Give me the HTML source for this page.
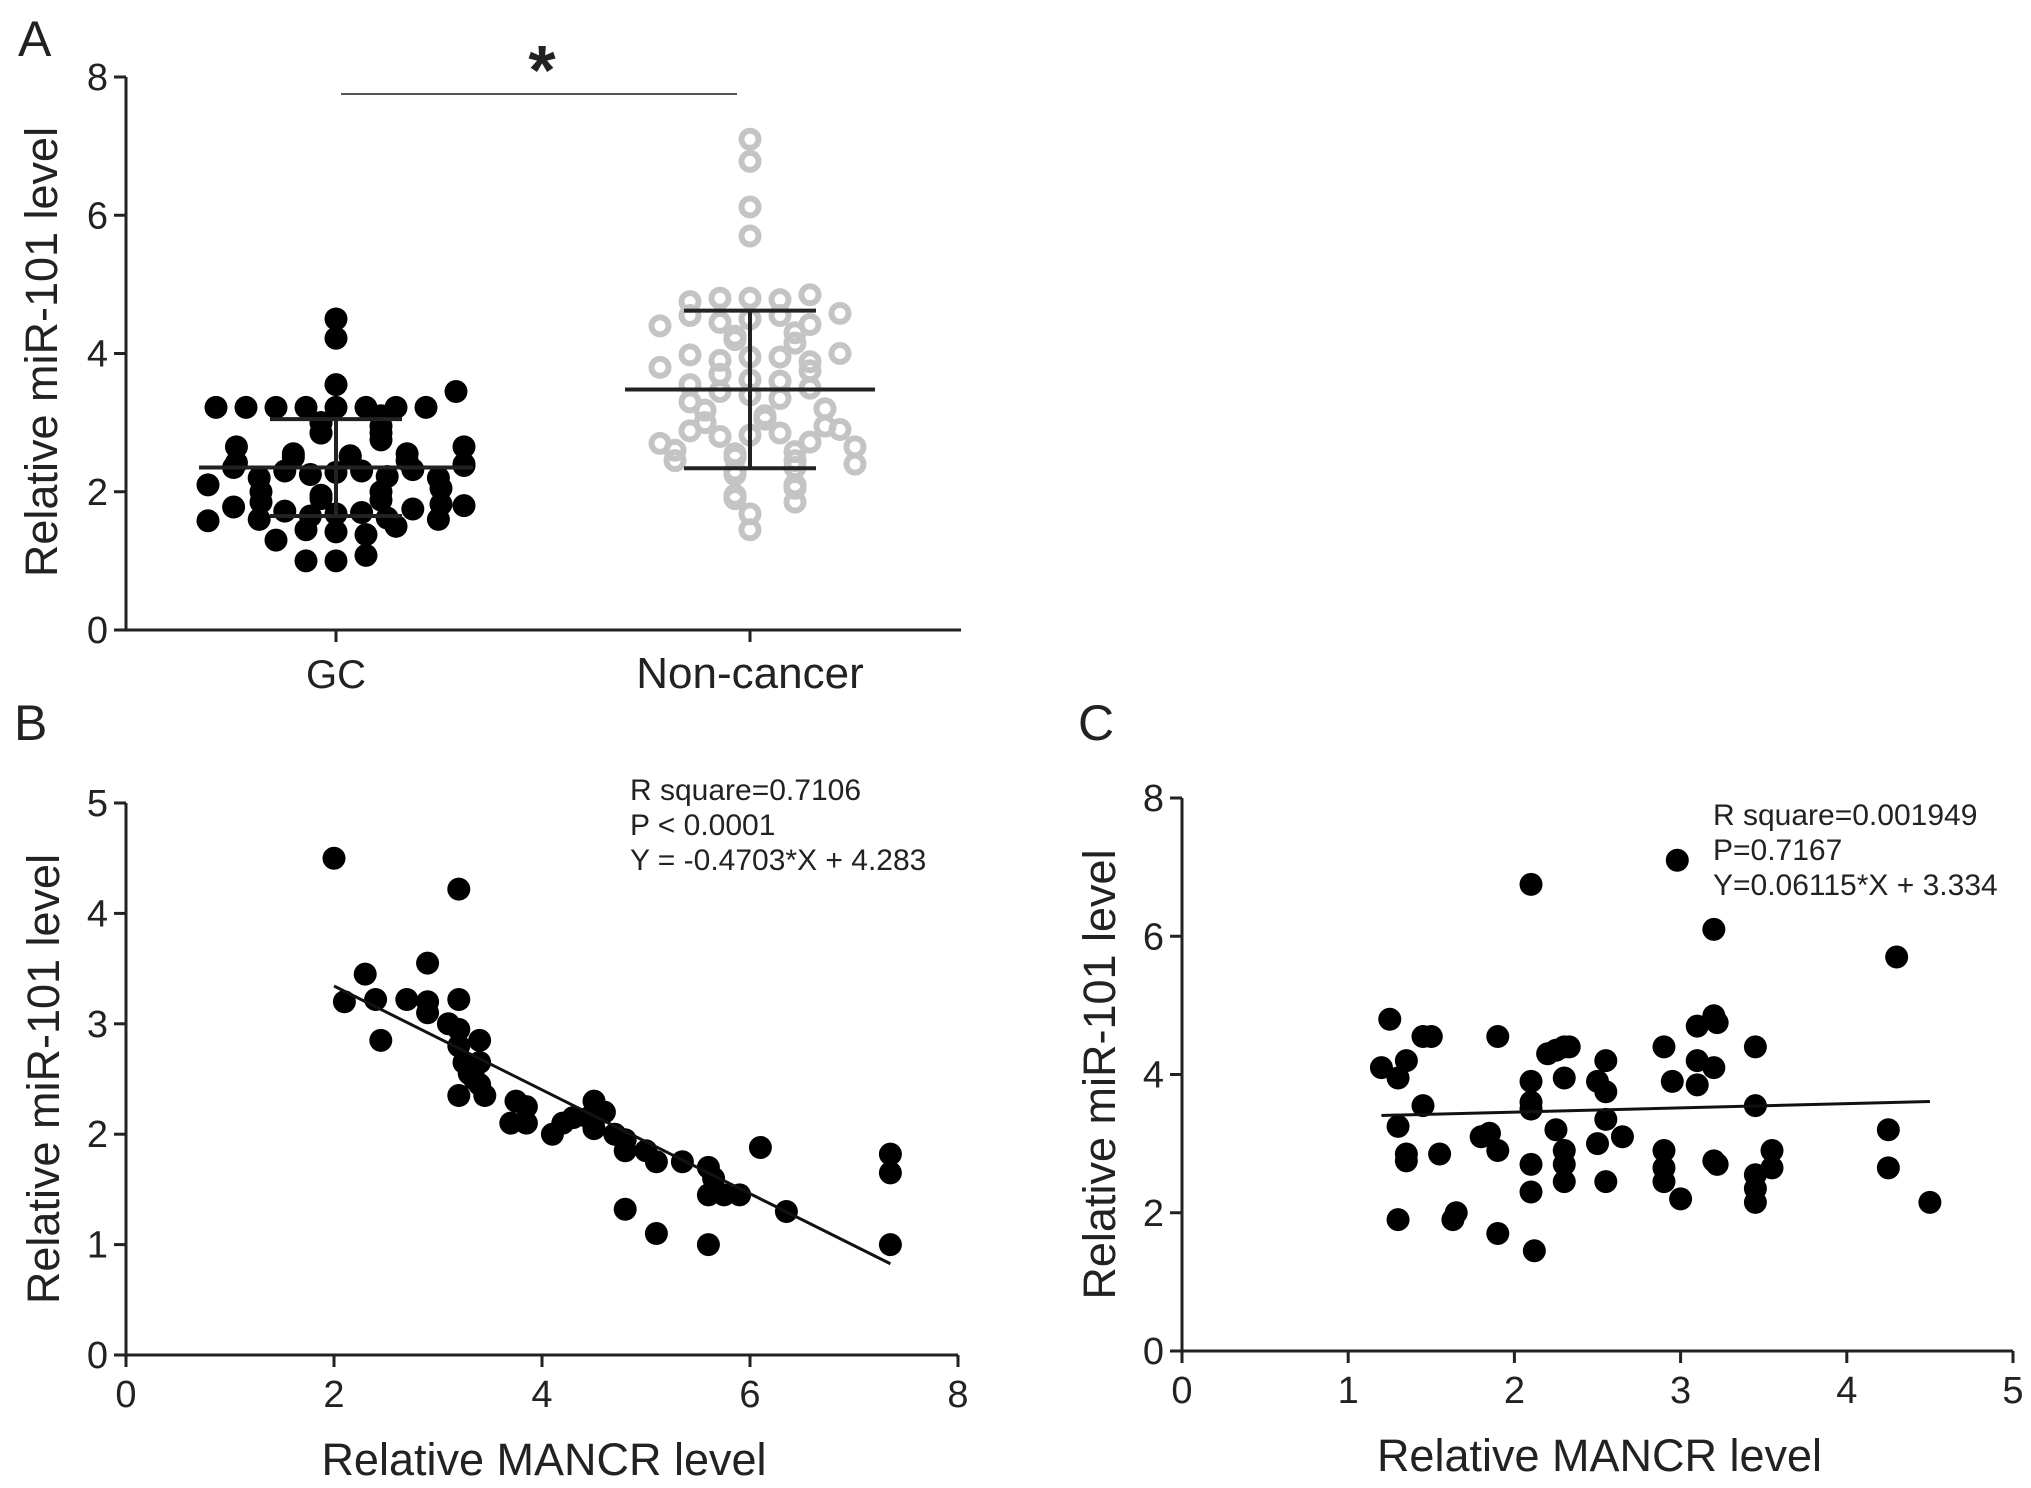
<!DOCTYPE html>
<html><head><meta charset="utf-8"><style>
html,body{margin:0;padding:0;background:#fff}
svg{display:block}
text{font-family:"Liberation Sans",sans-serif;fill:#222}
</style></head><body>
<svg id="fig" width="2031" height="1488" viewBox="0 0 2031 1488">
<g id="pa"></g>
<g id="pb"></g>
<g id="pc"></g>
</svg>
<script>
const gcValues=[4.5,4.22,3.55,3.45,3.22,3.22,3.22,3.22,3.22,3.22,3.22,3.22,3.1,3.0,3.0,2.95,2.85,2.85,2.85,2.75,2.65,2.65,2.55,2.55,2.52,2.5,2.5,2.45,2.42,2.4,2.38,2.35,2.32,2.3,2.3,2.28,2.25,2.22,2.2,2.2,2.1,2.05,2.0,2.0,1.95,1.9,1.88,1.85,1.82,1.8,1.78,1.75,1.72,1.7,1.68,1.65,1.62,1.6,1.6,1.58,1.5,1.45,1.42,1.38,1.3,1.08,1.0,1.0];
const ncValues=[7.1,6.78,6.12,5.7,4.85,4.8,4.8,4.78,4.75,4.58,4.55,4.55,4.5,4.45,4.42,4.4,4.3,4.25,4.2,4.15,4.0,3.98,3.95,3.95,3.9,3.88,3.8,3.75,3.7,3.62,3.6,3.55,3.5,3.45,3.4,3.35,3.3,3.2,3.18,3.1,3.05,3.0,2.95,2.9,2.88,2.85,2.82,2.8,2.72,2.7,2.65,2.6,2.58,2.55,2.5,2.45,2.45,2.4,2.35,2.3,2.25,2.1,2.05,1.95,1.9,1.85,1.68,1.45];
const groupStats=[{mean:2.35,sd:0.70},{mean:3.48,sd:1.14}];
const groupNames=["GC","Non-cancer"];
const aTicks=[0,2,4,6,8];
const bX=[2.0,3.2,2.9,2.3,2.1,2.4,2.45,2.7,2.9,2.9,3.2,3.1,3.2,3.2,3.25,3.3,3.4,3.4,3.35,3.4,3.2,3.45,3.75,3.85,3.7,3.85,4.1,4.2,4.3,4.45,4.5,4.55,4.6,4.5,4.7,4.8,4.8,5.0,5.1,5.35,5.6,5.65,5.6,5.75,5.9,6.35,6.1,4.8,5.1,5.6,7.35,7.35,7.35];
const bY=[4.5,4.22,3.55,3.45,3.2,3.22,2.85,3.22,3.2,3.1,3.22,3.0,2.95,2.8,2.65,2.55,2.85,2.65,2.5,2.45,2.35,2.35,2.3,2.25,2.1,2.1,2.0,2.1,2.15,2.15,2.3,2.2,2.2,2.05,2.0,1.95,1.85,1.85,1.75,1.75,1.7,1.6,1.45,1.45,1.45,1.3,1.88,1.32,1.1,1.0,1.82,1.65,1.0];
const bXTicks=[0,2,4,6,8], bYTicks=[0,1,2,3,4,5];
const bFit={slope:-0.4703,intercept:4.283,x0:2.0,x1:7.35};
const cX=[1.25,1.2,1.3,1.35,1.45,1.5,1.45,1.3,1.35,1.35,1.3,1.55,1.65,1.63,1.8,1.85,1.9,1.9,1.9,2.1,2.1,2.1,2.1,2.1,2.1,2.12,2.2,2.25,2.3,2.33,2.3,2.25,2.3,2.3,2.3,2.5,2.55,2.55,2.55,2.5,2.55,2.65,2.9,2.95,2.9,2.9,2.9,3.0,2.98,3.1,3.1,3.1,3.2,3.22,3.2,3.2,3.22,3.2,3.45,3.45,3.45,3.45,3.45,3.55,3.55,4.25,4.25,4.3,4.5];
const cY=[4.8,4.1,3.95,4.2,4.55,4.55,3.55,3.25,2.85,2.75,1.9,2.85,2.0,1.9,3.1,3.15,2.9,4.55,1.7,6.75,3.9,3.6,3.5,2.7,2.3,1.45,4.3,4.35,4.4,4.4,3.95,3.2,2.9,2.7,2.45,3.9,3.75,4.2,3.35,3.0,2.45,3.1,4.4,3.9,2.9,2.65,2.45,2.2,7.1,4.7,4.2,3.85,4.85,4.75,4.1,2.75,2.7,6.1,4.4,3.55,2.55,2.35,2.15,2.9,2.65,3.2,2.65,5.7,2.15];
const cXTicks=[0,1,2,3,4,5], cYTicks=[0,2,4,6,8];
const cFit={slope:0.06115,intercept:3.334,x0:1.2,x1:4.5};

const NS="http://www.w3.org/2000/svg";
function mk(parent,tag,attrs,txt){const e=document.createElementNS(NS,tag);for(const k in attrs)e.setAttribute(k,attrs[k]);if(txt!==undefined)e.textContent=txt;parent.appendChild(e);return e;}
function lin(d0,d1,r0,r1){return v=>r0+(v-d0)*(r1-r0)/(d1-d0);}
const TF=38;
function axes(g,X,Y,xTicks,yTicks,x0px,x1px,y0px,y1px){
  let e=mk(g,'line',{x1:x0px,y1:y0px,x2:x0px,y2:y1px,stroke:'#222','stroke-width':3});
  
  e=mk(g,'line',{x1:x0px-12,y1:y0px,x2:x1px,y2:y0px,stroke:'#222','stroke-width':3});
  
  yTicks.forEach(t=>{const y=Y(t);
    let l=mk(g,'line',{x1:x0px-12,y1:y,x2:x0px,y2:y,stroke:'#222','stroke-width':3});
    
    let tx=mk(g,'text',{x:x0px-18,y:y+13,'text-anchor':'end','font-size':TF},String(t));
    });
  if(xTicks) xTicks.forEach(t=>{const x=X(t);
    let l=mk(g,'line',{x1:x,y1:y0px,x2:x,y2:y0px+12,stroke:'#222','stroke-width':3});
    
    let tx=mk(g,'text',{x:x,y:y0px+52,'text-anchor':'middle','font-size':TF},String(t));
    });
}

// Panel A
(function(){
  const g=document.getElementById('pa');
  const Y=lin(0,8,630,77);
  const cx=[336,750];
  axes(g,null,Y,null,aTicks,126,961,630,77);
  cx.forEach((x,i)=>{let l=mk(g,'line',{x1:x,y1:630,x2:x,y2:642,stroke:'#222','stroke-width':3});
    
    let t=mk(g,'text',{x:x,y:688,'text-anchor':'middle','font-size':i?44:40},groupNames[i]);
    });
  let t=mk(g,'text',{x:0,y:0,transform:'translate(57,352) rotate(-90)','text-anchor':'middle','font-size':45,fill:'#333'},'Relative miR-101 level');
  
  t=mk(g,'text',{x:18,y:56,'font-size':50},'A');
  
  let l=mk(g,'line',{x1:341,y1:94,x2:737,y2:94,stroke:'#555','stroke-width':2});
  
  t=mk(g,'text',{x:542,y:94,'text-anchor':'middle','font-size':70,'font-weight':'bold'},'*');
  
  const r=11.5;
  function swarm(vals,center,halfW,open){
    const sorted=vals.slice().sort((a,b)=>b-a);
    const bins={};
    sorted.forEach(v=>{const k=Math.round(v/0.28);(bins[k]=bins[k]||[]).push(v);});
    Object.keys(bins).forEach(k=>{
      const arr=bins[k], n=arr.length;
      const w=Math.min((n-1)*30,2*halfW);
      arr.forEach((v,j)=>{
        const off=n===1?0:-w/2+j*w/(n-1);
        const x=center+(j%2? off : -off);
        const y=Y(v);
        const c=mk(g,'circle',open?{cx:x,cy:y,r:r-3,fill:'none',stroke:'#c4c4c4','stroke-width':6}:{cx:x,cy:y,r:r,fill:'#000'});
        
        
      });
    });
  }
  swarm(gcValues,cx[0],128,false);
  swarm(ncValues,cx[1],130,true);
  const halfMean=[137,125], halfCap=66;
  groupStats.forEach((s,i)=>{
    const x=cx[i];
    let m=mk(g,'line',{x1:x-halfMean[i],x2:x+halfMean[i],y1:Y(s.mean),y2:Y(s.mean),stroke:'#222','stroke-width':4});
    
    let v=mk(g,'line',{x1:x,x2:x,y1:Y(s.mean+s.sd),y2:Y(s.mean-s.sd),stroke:'#222','stroke-width':4});
    
    [s.mean+s.sd,s.mean-s.sd].forEach(val=>{
      let c=mk(g,'line',{x1:x-halfCap,x2:x+halfCap,y1:Y(val),y2:Y(val),stroke:'#222','stroke-width':4});
      });
  });
})();

function scatterPanel(id,xs,ys,xT,yT,xd,yd,px,py,fit,stats,label,lx,ly,statX,statY,titleX){
  const g=document.getElementById(id);
  const X=lin(xd[0],xd[1],px[0],px[1]), Y=lin(yd[0],yd[1],py[0],py[1]);
  axes(g,X,Y,xT,yT,px[0],px[1],py[0],py[1]);
  let t=mk(g,'text',{x:lx,y:ly,'font-size':50},label);
  
  t=mk(g,'text',{x:0,y:0,transform:`translate(${titleX},${(py[0]+py[1])/2}) rotate(-90)`,'text-anchor':'middle','font-size':45,fill:'#333'},'Relative miR-101 level');
  
  t=mk(g,'text',{x:(px[0]+px[1])/2+2,y:py[0]+120,'text-anchor':'middle','font-size':45,fill:'#333'},'Relative MANCR level');
  
  xs.forEach((x,i)=>{const c=mk(g,'circle',{cx:X(x),cy:Y(ys[i]),r:11.5,fill:'#000'});
    });
  const l=mk(g,'line',{x1:X(fit.x0),y1:Y(fit.slope*fit.x0+fit.intercept),x2:X(fit.x1),y2:Y(fit.slope*fit.x1+fit.intercept),stroke:'#111','stroke-width':3});
  
  stats.forEach((s,i)=>{const st=mk(g,'text',{x:statX,y:statY+i*35,'font-size':30,fill:'#333'},s);
    });
}
scatterPanel('pb',bX,bY,bXTicks,bYTicks,[0,8],[0,5],[126,958],[1355,803],bFit,
  ['R square=0.7106','P < 0.0001','Y = -0.4703*X + 4.283'],'B',14,740,630,800,59);
scatterPanel('pc',cX,cY,cXTicks,cYTicks,[0,5],[0,8],[1182,2013],[1351,798],cFit,
  ['R square=0.001949','P=0.7167','Y=0.06115*X + 3.334'],'C',1078,740,1713,825,1115);
</script>
</body></html>
